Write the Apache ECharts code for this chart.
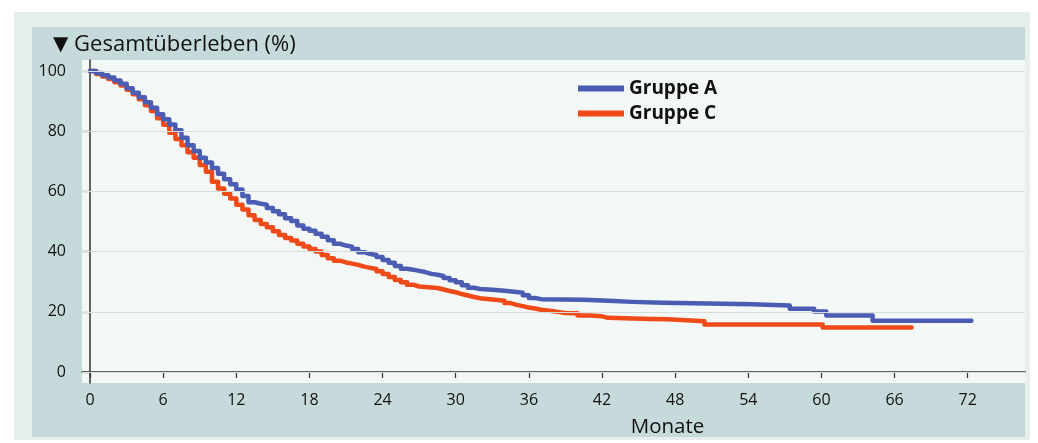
<!DOCTYPE html>
<html>
<head>
<meta charset="utf-8">
<script src="https://cdn.jsdelivr.net/npm/echarts@6/dist/echarts.min.js"></script>
<style>
html,body{margin:0;padding:0;background:#ffffff;}
#chart{width:1038px;height:443px;}
</style>
</head>
<body>
<div id="chart"></div>
<script>
// ---- Data ----
const titleMarker = '▼';
const titleText = 'Gesamtüberleben (%)';
const xAxisName = 'Monate';
const seriesNames = ['Gruppe A', 'Gruppe C'];
const xTicks = [0, 6, 12, 18, 24, 30, 36, 42, 48, 54, 60, 66, 72];
const yTicks = [0, 20, 40, 60, 80, 100];

const groupA = [
  [0,100],[0.5,99.3],[1,98.6],[1.5,97.8],[2,96.8],[2.5,95.8],[3,94.3],[3.5,92.8],[4,91.3],[4.5,89.6],
  [5,87.8],[5.5,85.6],[6,84],[6.5,82.2],[7,80.3],[7.5,77.8],[8,75.3],[8.5,73.4],[9,71.2],[9.5,69.6],
  [10,67.8],[10.5,65.9],[11,64],[11.5,62.4],[12,60.6],[12.5,58.5],[13,56.4],[13.5,55.9],[14,55.6],[14.5,54.5],
  [15,53.4],[15.5,52.4],[16,51.1],[16.5,50.2],[17,48.7],[17.5,47.6],[18,46.9],[18.5,45.9],[19,44.9],[19.5,43.8],
  [20,42.6],[20.5,42],[21,41.6],[21.5,40.9],[22,39.8],[22.5,39.2],[23,38.9],[23.5,38.2],[24,37.2],[24.5,36.3],
  [25,35.2],[25.5,34.3],[26,34],[26.5,33.6],[27,33.2],[27.5,32.6],[28,32.3],[28.5,31.9],[29,31.2],[29.5,30.5],
  [30,29.8],[30.5,28.8],[31,28],[31.5,27.6],[32,27.3],[33,27],[34,26.6],[35,26.3],[35.5,25.5],[36,24.6],
  [36.5,24.2],[37,24],[40.5,23.6],[43,23.3],[44.5,23],[47,22.5],[54.3,22.1],[57.4,21],[59.4,20.1],[60.4,18.8],
  [64.2,17],[72.3,17]
];

const groupC = [
  [0,100],[0.5,99],[1,98.2],[1.5,97.3],[2,96.3],[2.5,95.2],[3,93.8],[3.5,92.3],[4,90.6],[4.5,88.6],
  [5,86.7],[5.5,84.3],[6,82.1],[6.5,79.5],[7,77.4],[7.5,75.3],[8,73],[8.5,71.2],[9,68.8],[9.5,66.5],
  [10,63.2],[10.5,61],[11,59.2],[11.5,57.6],[12,55.6],[12.5,54],[13,52.1],[13.5,50.5],[14,49.2],[14.5,48.1],
  [15,46.8],[15.5,45.5],[16,44.5],[16.5,43.7],[17,42.6],[17.5,41.7],[18,40.9],[18.5,40],[19,38.9],[19.5,37.8],
  [20,37],[20.5,36.4],[21,36],[21.5,35.6],[22,35],[22.5,34.6],[23,34.2],[23.5,33.5],[24,32.6],[24.5,31.6],
  [25,30.6],[25.5,29.8],[26,29],[26.5,28.4],[27,28.1],[28,27.9],[28.5,27.4],[29,26.9],[29.5,26.5],[30,25.9],
  [30.5,25.4],[31,24.9],[31.5,24.5],[32,24.1],[33,23.7],[34,22.9],[34.5,22.3],[35,21.9],[35.5,21.4],[36,21.1],
  [36.5,20.7],[37,20.2],[38,19.9],[38.5,19.6],[39,19.5],[40,18.8],[41,18.5],[42,18],[42.5,17.6],[46,17.5],
  [47.4,16.9],[50.4,15.8],[60.1,14.8],[67.4,14.8]
];

// ---- Chart ----
const FONT = '"Open Sans", Lato, sans-serif';
const chart = echarts.init(document.getElementById('chart'), null, {renderer: 'canvas'});
const option = {
  animation: false,
  backgroundColor: '#ffffff',
  textStyle: {fontFamily: FONT},
  graphic: [
    {type: 'rect', z: -10, silent: true, shape: {x: 14, y: 12, width: 1016, height: 428}, style: {fill: '#e7efee'}},
    {type: 'rect', z: -9, silent: true, shape: {x: 32, y: 27, width: 993, height: 410}, style: {fill: '#c7dadb'}}
  ],
  title: {
    text: '{tri|' + titleMarker + '} ' + titleText,
    left: 48, top: 29,
    textStyle: {
      fontFamily: FONT, fontSize: 22, fontWeight: 'normal', color: '#111',
      rich: {tri: {fontFamily: '"DejaVu Sans", sans-serif', fontSize: 20, color: '#111'}}
    }
  },
  legend: {
    data: seriesNames,
    orient: 'vertical',
    left: 578, top: 79,
    padding: 0,
    itemWidth: 46, itemHeight: 6, itemGap: 6,
    icon: 'rect',
    textStyle: {fontFamily: FONT, fontSize: 19, fontWeight: 'bold', color: '#111'}
  },
  grid: {
    left: 82, top: 60, right: 13, bottom: 60,
    show: true, backgroundColor: '#f3f7f6', borderWidth: 0
  },
  xAxis: {
    type: 'value',
    min: -0.66, max: 76.7,
    name: xAxisName,
    nameLocation: 'middle',
    nameGap: 34,
    nameTextStyle: {fontFamily: FONT, fontSize: 20.5, color: '#111', padding: [0, 0, 0, 228]},
    axisLine: {show: true, lineStyle: {color: '#333', width: 1.5}},
    axisTick: {show: true, length: 6, customValues: xTicks, lineStyle: {color: '#333', width: 1.2}},
    axisLabel: {customValues: xTicks, fontSize: 16, color: '#111', margin: 9, fontFamily: FONT},
    splitLine: {show: false}
  },
  yAxis: {
    type: 'value',
    min: -3.65, max: 103.65,
    axisLine: {show: true, lineStyle: {color: '#333', width: 1.5}},
    axisTick: {show: true, length: 8, customValues: yTicks, lineStyle: {color: '#333', width: 1.2}},
    axisLabel: {customValues: yTicks, fontSize: 16, color: '#111', margin: 16, fontFamily: FONT},
    splitLine: {show: false}
  },
  series: [
    {
      name: 'grid',
      type: 'line',
      data: [],
      silent: true,
      z: 1,
      markLine: {
        silent: true,
        symbol: 'none',
        label: {show: false},
        emphasis: {disabled: true},
        lineStyle: {color: '#d6dcdb', width: 1, type: 'solid'},
        data: yTicks.map(v => ({yAxis: v}))
      }
    },
    {
      name: seriesNames[0],
      type: 'line',
      step: 'end',
      data: groupA,
      showSymbol: false,
      symbol: 'none',
      color: '#4a5db3',
      lineStyle: {width: 4.5, color: '#4a5db3', join: 'round', cap: 'round'},
      z: 3
    },
    {
      name: seriesNames[1],
      type: 'line',
      step: 'end',
      data: groupC,
      showSymbol: false,
      symbol: 'none',
      color: '#ef4a18',
      lineStyle: {width: 4.5, color: '#ef4a18', join: 'round', cap: 'round'},
      z: 2
    }
  ]
};
chart.setOption(option);
</script>
</body>
</html>
